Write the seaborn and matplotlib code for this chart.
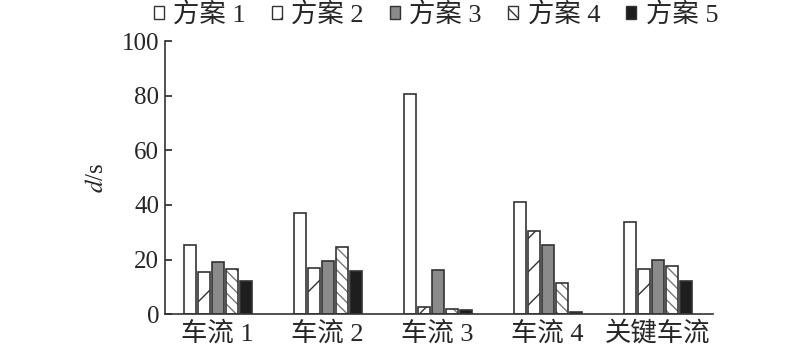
import pandas as pd
import numpy as np
import matplotlib
matplotlib.use('Agg')
import matplotlib.pyplot as plt
import seaborn as sns

# values
groups = ['车流 1', '车流 2', '车流 3', '车流 4', '关键车流']
schemes = ['方案 1', '方案 2', '方案 3', '方案 4', '方案 5']
s1 = [25.3, 37.0, 80.5, 41.0, 33.7]
s2 = [15.4, 17.0, 2.5, 30.3, 16.5]
s3 = [19.2, 19.6, 16.0, 25.5, 19.7]
s4 = [16.5, 24.5, 1.8, 11.5, 17.5]
s5 = [12.0, 15.8, 1.5, 0.8, 12.0]

colors = ['white', 'white', '#8a8a8a', 'white', '#1e1e1e']
hatches = ['', '/', '', '\\\\\\', '']

rows = []
for name, vals in zip(schemes, [s1, s2, s3, s4, s5]):
    for g, v in zip(groups, vals):
        rows.append({'group': g, 'scheme': name, 'd': v})
df = pd.DataFrame(rows)

sns.set_style('ticks')
plt.rcParams['font.family'] = ['Liberation Serif', 'Noto Sans CJK SC']
plt.rcParams['mathtext.fontset'] = 'stix'
plt.rcParams['hatch.linewidth'] = 1.0

fig = plt.figure(figsize=(8, 3.57), dpi=100)
ax = fig.add_axes([0.206, 0.120, 0.685, 0.765])

sns.barplot(data=df, x='group', y='d', hue='scheme', palette=colors,
            width=0.635, gap=0.14, edgecolor='#333333', linewidth=1.2,
            saturation=1, legend=False, ax=ax)

# hatches per scheme
for cont, h in zip(ax.containers, hatches):
    for bar in cont:
        bar.set_hatch(h)
for bar in ax.containers[3]:
    bar._hatch_color = matplotlib.colors.to_rgba('#777777')

ax.set_xlim(-0.48, 4.5)
ax.set_ylim(0, 100)
ax.set_yticks([0, 20, 40, 60, 80, 100])
ax.tick_params(axis='y', direction='in', length=5, width=1.2, labelsize=18, pad=4)
ax.tick_params(axis='x', length=0, labelsize=19, pad=5)
ax.set_xlabel('')
ax.set_ylabel('$d$/s', fontsize=18, labelpad=10)
sns.despine(ax=ax)
for sp in ['left', 'bottom']:
    ax.spines[sp].set_linewidth(1.2)
    ax.spines[sp].set_color('#333333')

handles = [matplotlib.patches.Patch(facecolor=c, edgecolor='#333333', hatch=h, linewidth=1)
           for c, h in zip(colors, ['', '/', '', '\\\\', ''])]
fig.legend(handles, schemes, loc='upper left', bbox_to_anchor=(0.192, 0.995), ncol=5,
           frameon=False, fontsize=19, handlelength=0.38, handleheight=0.38,
           handletextpad=0.35, columnspacing=1.0, borderpad=0, borderaxespad=0)

fig.savefig('out.png', dpi=100)
